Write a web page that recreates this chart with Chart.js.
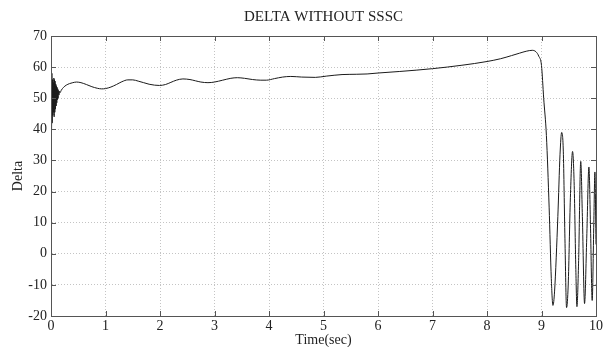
<!DOCTYPE html>
<html>
<head>
<meta charset="utf-8">
<script src="https://cdn.jsdelivr.net/npm/chart.js@4.4.1/dist/chart.umd.min.js"></script>
<style>
  html, body { margin: 0; padding: 0; background: #fff; }
  #wrap { width: 606px; height: 347px; }
</style>
</head>
<body>
<div id="wrap"><canvas id="deltaChart" width="606" height="347"></canvas></div>
<script>
// Time axis (sec) and rotor angle values
const timeSec = [
    0, 0.004, 0.010, 0.016, 0.022, 0.028, 0.034, 0.040, 0.046, 0.052, 0.058, 0.064, 0.070, 0.076,
    0.082, 0.088, 0.094, 0.100, 0.106, 0.112, 0.118, 0.124, 0.130, 0.138, 0.146, 0.155, 0.165,
    0.19, 0.23, 0.28, 0.34, 0.40, 0.47, 0.55, 0.65, 0.75, 0.85, 0.93, 1.00, 1.10, 1.20, 1.30,
    1.41, 1.50, 1.60, 1.70, 1.80, 1.90, 1.99, 2.10, 2.20, 2.30, 2.42, 2.55, 2.65, 2.75, 2.88,
    3.00, 3.15, 3.30, 3.42, 3.55, 3.70, 3.85, 3.95, 4.10, 4.25, 4.40, 4.60, 4.85, 5.05, 5.34,
    5.60, 5.80, 6.00, 6.40, 7.00, 7.54, 8.00, 8.25, 8.45, 8.60, 8.72, 8.83, 8.90, 8.95, 9.00,
    9.04, 9.09, 9.14, 9.18, 9.21, 9.24, 9.30, 9.34, 9.37, 9.40, 9.43, 9.46, 9.49, 9.53, 9.57,
    9.60, 9.63, 9.65, 9.68, 9.72, 9.75, 9.79, 9.83, 9.87, 9.90, 9.93, 9.96, 9.98, 10.0
];
const delta = [
    52, 60, 40, 58, 42, 56, 44.5, 55, 45.5, 56.5, 44, 56, 45.5, 55.5,
    46.5, 54.5, 47.5, 54, 48.5, 53.5, 49.5, 53, 50, 52.5, 51, 52.2, 51.8,
    52.6, 53.5, 54.2, 54.7, 55.0, 55.2, 55.0, 54.4, 53.7, 53.2, 53.0, 53.1, 53.6, 54.4, 55.3,
    55.9, 55.9, 55.5, 55.0, 54.5, 54.2, 54.1, 54.4, 55.1, 55.8, 56.2, 56.0, 55.6, 55.2, 55.0,
    55.2, 55.8, 56.4, 56.6, 56.4, 56.0, 55.8, 55.8, 56.3, 56.8, 57.0, 56.8, 56.7, 57.1, 57.6,
    57.7, 57.8, 58.1, 58.6, 59.5, 60.6, 61.8, 62.7, 63.7, 64.5, 65.1, 65.4, 64.9, 63.5, 60.5,
    50, 38, 15, -8, -16.6, -12, 12, 32, 39, 33, 5, -17.3, -10, 18, 32.9,
    22, -5, -17, -3, 29.7, 12, -16, 5, 27.9, 8, -15, 10, 26.3, 3
];
const xTicks = [0, 1, 2, 3, 4, 5, 6, 7, 8, 9, 10];
const yTicks = [-20, -10, 0, 10, 20, 30, 40, 50, 60, 70];

const serif = 'Liberation Serif, Times New Roman, serif';

// Box around the plot plus small inward tick marks (MATLAB style)
const framePlugin = {
    id: 'frame',
    afterDatasetsDraw: (chart) => {
        const { ctx, chartArea: a, scales: { x, y } } = chart;
        ctx.save();
        ctx.strokeStyle = '#555';
        ctx.lineWidth = 1;
        ctx.beginPath();
        xTicks.forEach(v => {
            const px = Math.round(x.getPixelForValue(v)) + 0.5;
            ctx.moveTo(px, a.bottom); ctx.lineTo(px, a.bottom - 5);
            ctx.moveTo(px, a.top); ctx.lineTo(px, a.top + 5);
        });
        yTicks.forEach(v => {
            const py = Math.round(y.getPixelForValue(v)) + 0.5;
            ctx.moveTo(a.left, py); ctx.lineTo(a.left + 5, py);
            ctx.moveTo(a.right, py); ctx.lineTo(a.right - 5, py);
        });
        ctx.stroke();
        ctx.strokeRect(Math.round(a.left) + 0.5, Math.round(a.top) + 0.5,
            Math.round(a.right - a.left), Math.round(a.bottom - a.top));
        ctx.restore();
    }
};

const ctx = document.getElementById('deltaChart');
new Chart(ctx, {
    type: 'line',
    data: {
        datasets: [{
            data: timeSec.map((t, i) => ({ x: t, y: delta[i] })),
            borderColor: '#1a1a1a',
            borderWidth: 1,
            pointRadius: 0,
            fill: false,
            cubicInterpolationMode: 'monotone'
        }]
    },
    options: {
        responsive: false,
        animation: false,
        layout: { padding: { left: 0, right: 8, top: 0, bottom: 0 } },
        plugins: {
            legend: { display: false },
            tooltip: { enabled: false },
            title: {
                display: true,
                fullSize: false, // center over the plot area, not the canvas
                text: 'DELTA WITHOUT SSSC',
                color: '#222',
                font: { family: serif, size: 15, weight: 'normal' },
                padding: { top: 8, bottom: 10 }
            }
        },
        scales: {
            x: {
                type: 'linear',
                min: 0,
                max: 10,
                afterBuildTicks: (s) => { s.ticks = xTicks.map(v => ({ value: v })); },
                afterFit: (s) => { s.height = 31; },
                grid: { color: '#c4c4c4', drawTicks: false },
                border: { display: true, color: '#555', dash: [1, 2] },
                ticks: {
                    color: '#222',
                    padding: 3,
                    maxRotation: 0,
                    font: { family: serif, size: 14, lineHeight: 1 }
                },
                title: {
                    display: true,
                    text: 'Time(sec)',
                    color: '#222',
                    padding: { top: 0, bottom: 0 },
                    font: { family: serif, size: 14, lineHeight: 1 }
                }
            },
            y: {
                min: -20,
                max: 70,
                afterBuildTicks: (s) => { s.ticks = yTicks.map(v => ({ value: v })); },
                afterFit: (s) => { s.width = 51; },
                grid: { color: '#c4c4c4', drawTicks: false },
                border: { display: true, color: '#555', dash: [1, 2] },
                ticks: {
                    color: '#222',
                    padding: 4,
                    font: { family: serif, size: 14, lineHeight: 1 }
                },
                title: {
                    display: true,
                    text: 'Delta',
                    color: '#222',
                    padding: { top: 11, bottom: 0 },
                    font: { family: serif, size: 14, lineHeight: 1 }
                }
            }
        }
    },
    plugins: [framePlugin]
});
</script>
</body>
</html>
